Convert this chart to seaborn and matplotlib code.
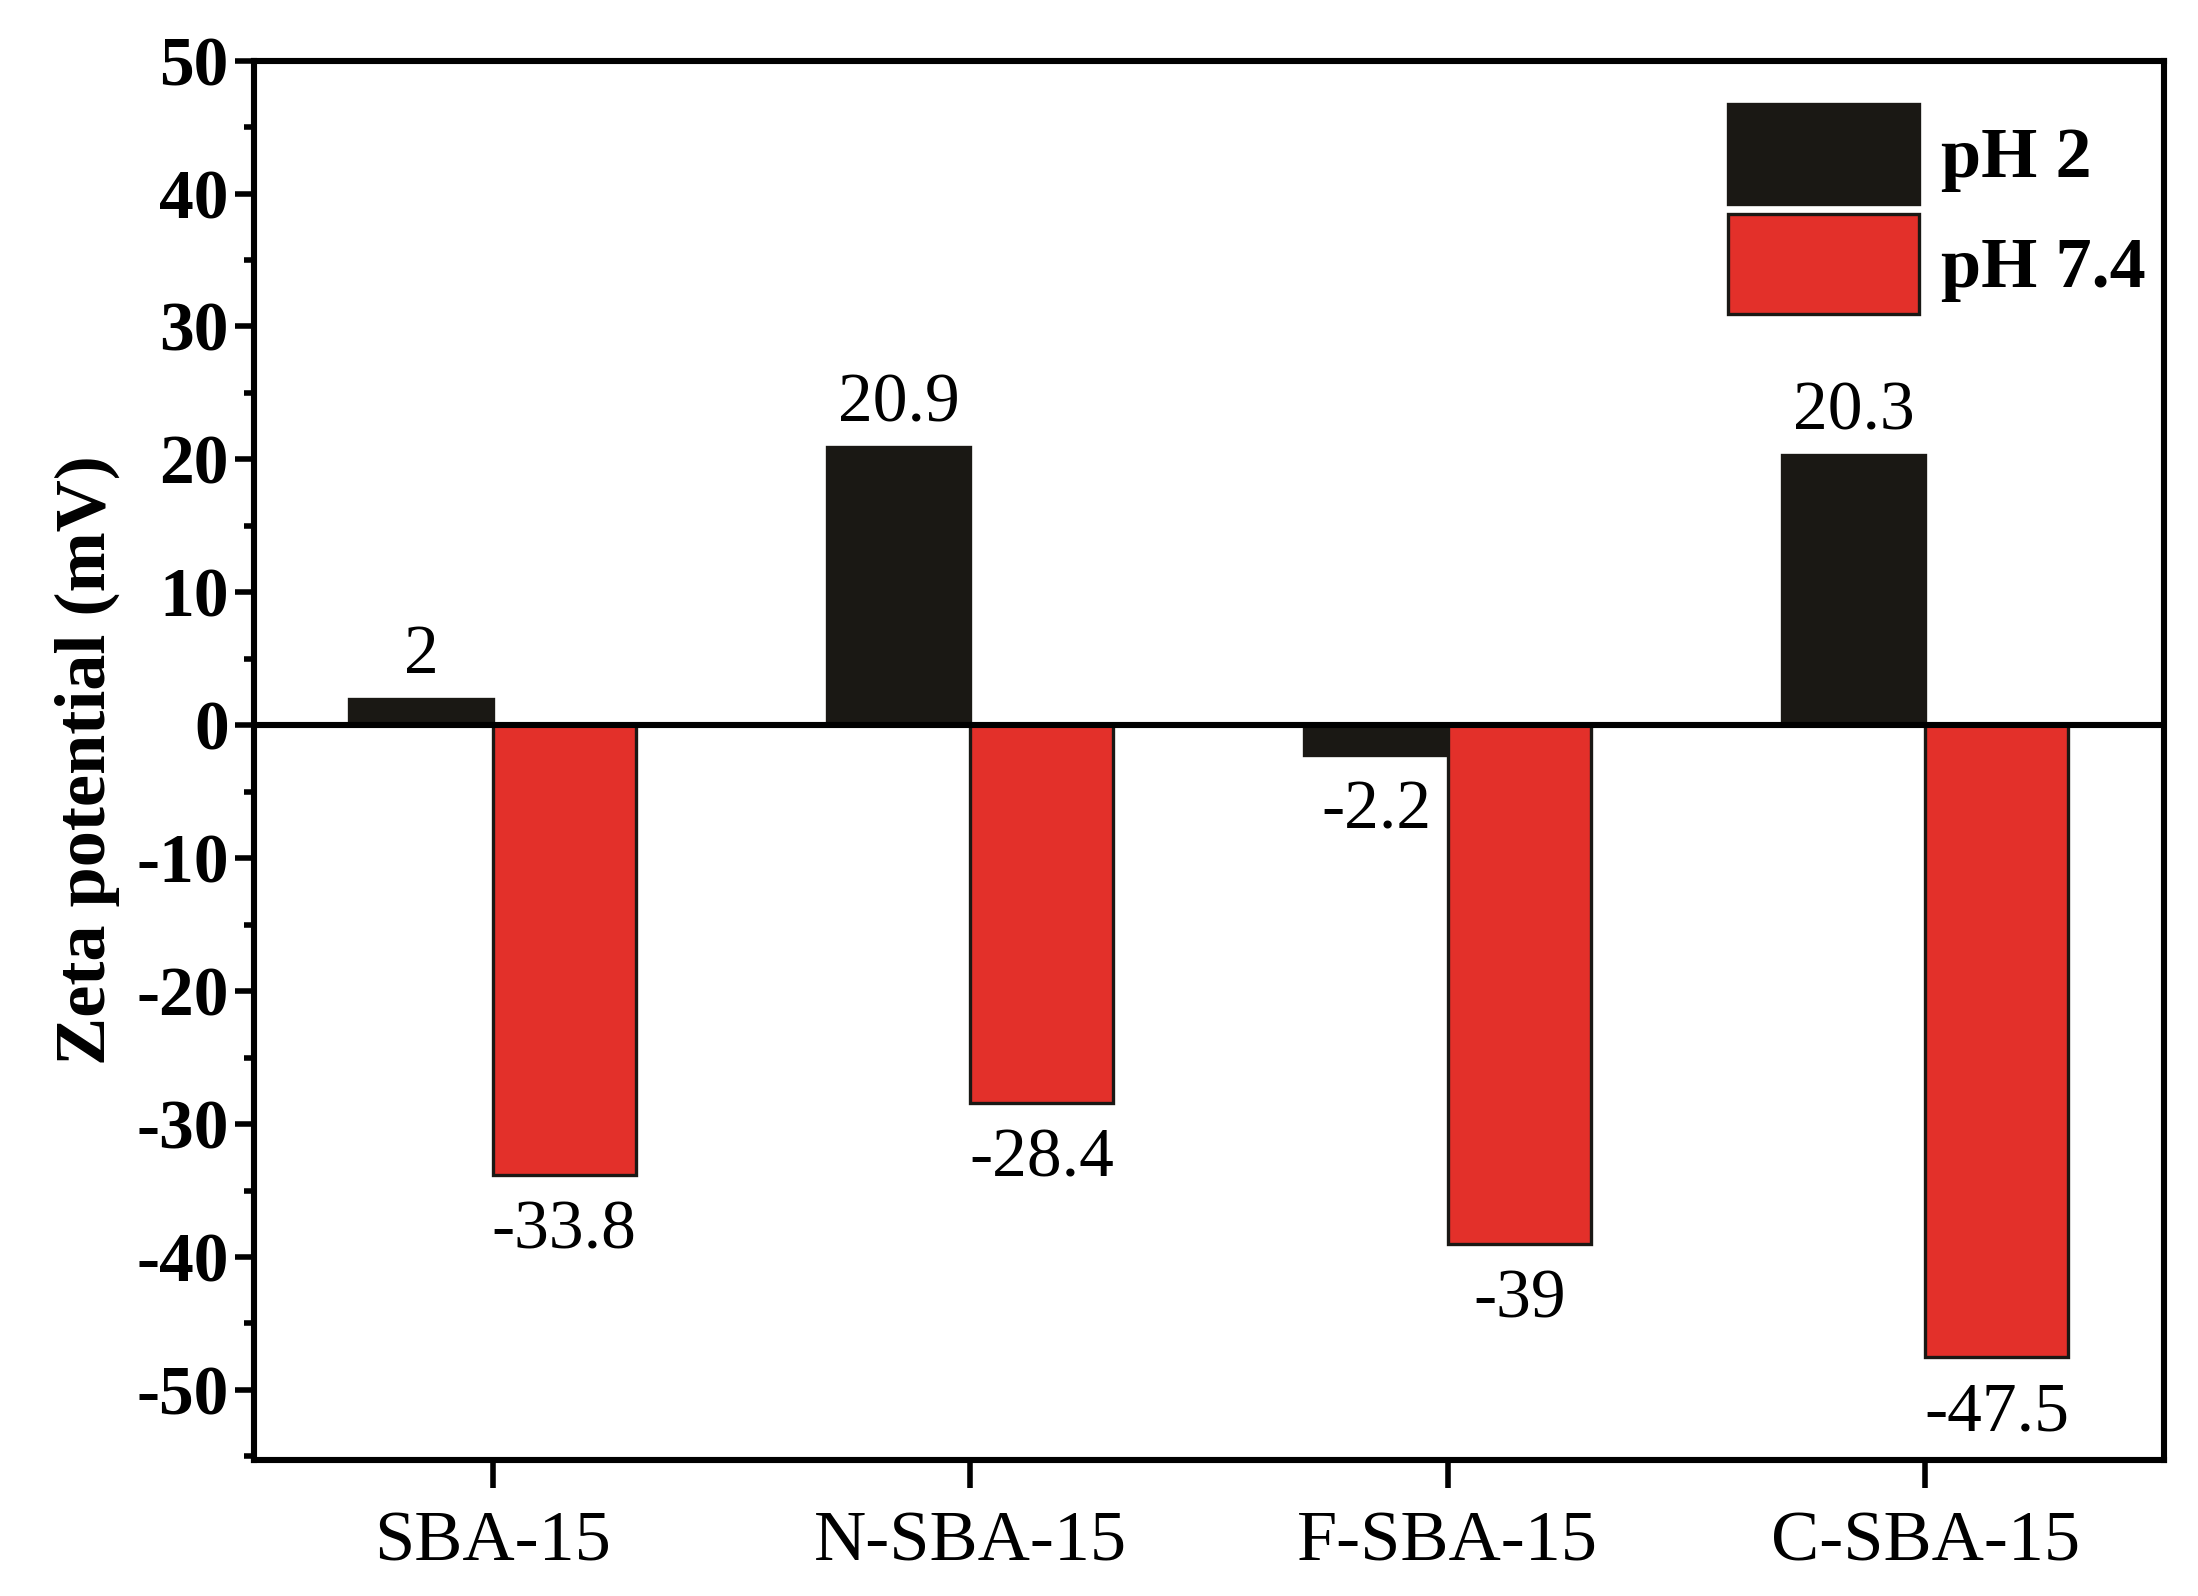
#!/usr/bin/env python3
"""
Zeta potential of SBA-15 samples at pH 2 and pH 7.4
"""

import numpy as np
import pandas as pd
import matplotlib
matplotlib.use('Agg')
import matplotlib.pyplot as plt
from matplotlib.ticker import MultipleLocator
import seaborn as sns

# Dados
samples = ['SBA-15', 'N-SBA-15', 'F-SBA-15', 'C-SBA-15']
ph_labels = ['pH 2', 'pH 7.4']
zeta_ph2 = [2, 20.9, -2.2, 20.3]
zeta_ph74 = [-33.8, -28.4, -39, -47.5]
value_labels_ph2 = ['2', '20.9', '-2.2', '20.3']
value_labels_ph74 = ['-33.8', '-28.4', '-39', '-47.5']

df = pd.DataFrame({
    'sample': samples * 2,
    'ph': [ph_labels[0]] * 4 + [ph_labels[1]] * 4,
    'zeta': zeta_ph2 + zeta_ph74,
})

sns.set_style('ticks')
plt.rcParams['font.family'] = ['Liberation Serif', 'DejaVu Serif']
plt.rcParams['axes.unicode_minus'] = False
plt.rcParams['text.color'] = 'black'
plt.rcParams['xtick.color'] = 'black'
plt.rcParams['ytick.color'] = 'black'
plt.rcParams['axes.labelcolor'] = 'black'

fig = plt.figure(figsize=(10.99, 7.98), dpi=200)
ax = fig.add_axes([0.1155, 0.085, 0.869, 0.877])

sns.barplot(data=df, x='sample', y='zeta', hue='ph', hue_order=ph_labels,
            palette=['#1a1814', '#e3302a'], width=0.6, dodge=True,
            edgecolor='#1a1814', linewidth=1.2, saturation=1, ax=ax)

# Rótulos dos valores (positivos acima, negativos abaixo)
all_vals = [zeta_ph2, zeta_ph74]
for cont, labs, vals in zip(ax.containers, [value_labels_ph2, value_labels_ph74], all_vals):
    pos = [l if v >= 0 else '' for l, v in zip(labs, vals)]
    neg = [l if v < 0 else '' for l, v in zip(labs, vals)]
    ax.bar_label(cont, labels=pos, padding=4, fontsize=25, color='black')
    ax.bar_label(cont, labels=neg, padding=9, fontsize=25, color='black')

ax.axhline(0, color='black', lw=2.2, zorder=3)

ax.set_xlim(-0.5, 3.5)
ax.set_ylim(-55.3, 50)
ax.yaxis.set_major_locator(MultipleLocator(10))
ax.yaxis.set_minor_locator(MultipleLocator(5))

ax.set_xlabel('')
ax.set_ylabel('Zeta potential (mV)', fontsize=26, fontweight='bold', labelpad=6)

for lab in ax.get_yticklabels():
    lab.set_fontweight('bold')
ax.tick_params(axis='y', which='major', direction='out', length=7, width=2,
               labelsize=25, pad=2)
ax.tick_params(axis='y', which='minor', direction='out', length=3.5, width=2)
ax.tick_params(axis='x', which='major', direction='out', length=10, width=2,
               labelsize=26, pad=8)

for sp in ax.spines.values():
    sp.set_linewidth(2.2)
    sp.set_color('black')
    sp.set_visible(True)

ax.legend(loc='upper right', bbox_to_anchor=(1.013, 1.0), frameon=False,
          prop={'weight': 'bold', 'size': 26},
          handlelength=2.65, handleheight=1.75, labelspacing=0.14,
          handletextpad=0.3, borderaxespad=0.2)

plt.savefig('out.png', dpi=200)
plt.close()
